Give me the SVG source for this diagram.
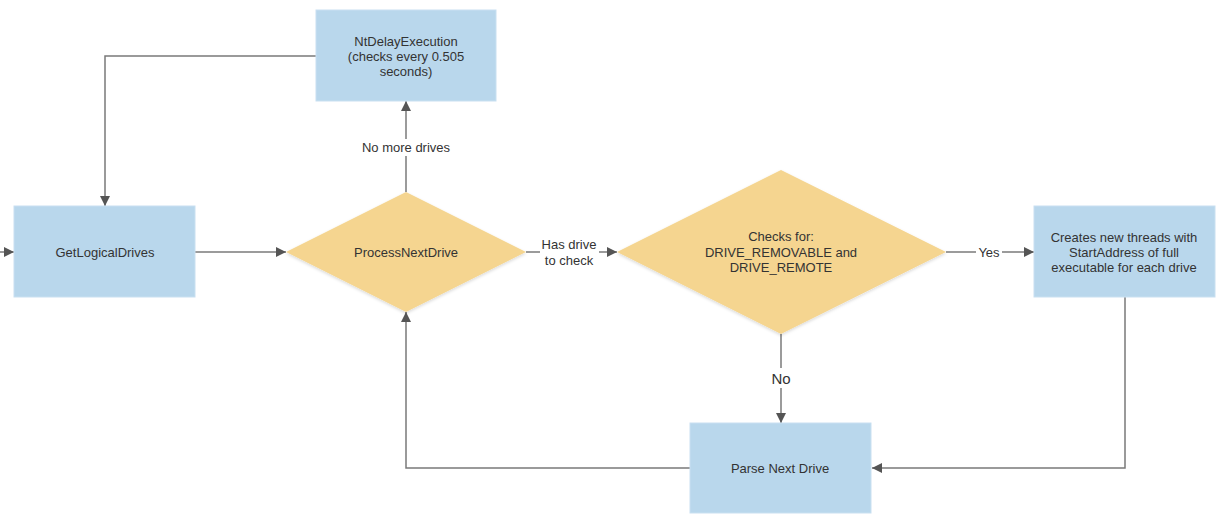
<svg xmlns="http://www.w3.org/2000/svg" width="1222" height="525" viewBox="0 0 1222 525">
<style>
.box{fill:#b9d7ec;stroke:#c9e0f1;stroke-width:1}
.dia{fill:#f5d590;stroke:none}
.t{font-family:"Liberation Sans",Arial,sans-serif;font-size:13px;fill:#333;text-anchor:middle}
.lbl{font-family:"Liberation Sans",Arial,sans-serif;font-size:13px;fill:#333;text-anchor:middle}
.edge{fill:none;stroke:#7a7a7a;stroke-width:1.5}
.bg{fill:#fff}
</style>
<defs>
<marker id="ah" viewBox="0 0 10 10" refX="10" refY="5" markerWidth="10" markerHeight="10" markerUnits="userSpaceOnUse" orient="auto">
<path d="M0,0 L10,5 L0,10 z" fill="#555"/>
</marker>
<filter id="sh" x="-10%" y="-10%" width="120%" height="130%">
<feDropShadow dx="0" dy="1.5" stdDeviation="1.5" flood-color="#000" flood-opacity="0.15"/>
</filter>
</defs>
<g id="connectors">
<path class="edge" d="M0,252 L14,252" marker-end="url(#ah)"/>
<path class="edge" d="M195,252 L286,252" marker-end="url(#ah)"/>
<path class="edge" d="M406,192 L406,101" marker-end="url(#ah)"/>
<path class="edge" d="M316,56 L105,56 L105,206" marker-end="url(#ah)"/>
<path class="edge" d="M526,252 L617,252" marker-end="url(#ah)"/>
<path class="edge" d="M946,252 L1034,252" marker-end="url(#ah)"/>
<path class="edge" d="M781,334 L781,423" marker-end="url(#ah)"/>
<path class="edge" d="M1125,297 L1125,468 L872,468" marker-end="url(#ah)"/>
<path class="edge" d="M690,468 L406,468 L406,312" marker-end="url(#ah)"/>
<rect class="bg" x="359" y="139" width="94" height="17"/>
<text class="lbl" x="406" y="152">No more drives</text>
<rect class="bg" x="540" y="237" width="59" height="31"/>
<text class="lbl" x="569" y="249">Has drive</text>
<text class="lbl" x="569" y="265">to check</text>
<rect class="bg" x="976" y="244" width="26" height="16"/>
<text class="lbl" x="989" y="257">Yes</text>
<rect class="bg" x="768" y="368" width="26" height="20"/>
<text class="lbl" x="781" y="384" style="font-size:15px">No</text>
</g>
<g id="n-ntdelay">
<rect class="box" x="316" y="10" width="180" height="91"/>
<text class="t" x="406" y="46">NtDelayExecution</text>
<text class="t" x="406" y="61">(checks every 0.505</text>
<text class="t" x="406" y="76">seconds)</text>
</g>
<g id="n-getlogical">
<rect class="box" x="14" y="206" width="181" height="91"/>
<text class="t" x="105" y="257">GetLogicalDrives</text>
</g>
<g id="n-processnext">
<polygon class="dia" filter="url(#sh)" points="406,192 526,252 406,312 286,252"/>
<text class="t" x="406" y="257">ProcessNextDrive</text>
</g>
<g id="n-checks">
<polygon class="dia" filter="url(#sh)" points="781,170 946,252 781,334 617,252"/>
<text class="t" x="781" y="241">Checks for:</text>
<text class="t" x="781" y="257">DRIVE_REMOVABLE and</text>
<text class="t" x="781" y="272">DRIVE_REMOTE</text>
</g>
<g id="n-creates">
<rect class="box" x="1034" y="206" width="181" height="91"/>
<text class="t" x="1124" y="242">Creates new threads with</text>
<text class="t" x="1124" y="257">StartAddress of full</text>
<text class="t" x="1124" y="272">executable for each drive</text>
</g>
<g id="n-parse">
<rect class="box" x="690" y="423" width="181" height="90"/>
<text class="t" x="780" y="473">Parse Next Drive</text>
</g>
</svg>
